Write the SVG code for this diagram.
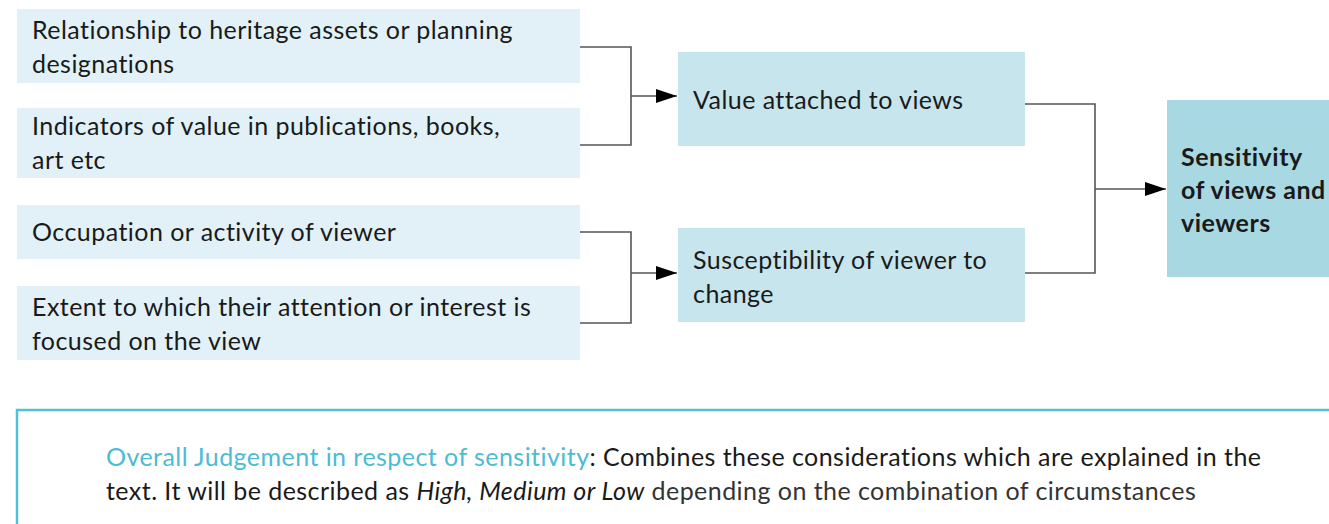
<svg xmlns="http://www.w3.org/2000/svg" width="1329" height="524" viewBox="0 0 1329 524">
  <style>
    .t { font-family: Lato, "Open Sans", "Liberation Sans", sans-serif; font-size: 25px; letter-spacing: 0.45px; fill: #1a1a1a; }
    .b { font-weight: bold; letter-spacing: 0.5px; }
    .lvl1 { fill: #e1f1f7; }
    .lvl2 { fill: #c7e5ed; }
    .lvl3 { fill: #a8d8e2; }
    .wire { fill: none; stroke: #555555; stroke-width: 1.6; }
    .accent { fill: #4bbcd4; }
  </style>
  <defs>
    <marker id="arrow" viewBox="0 0 21 14" refX="21" refY="7" markerWidth="21" markerHeight="14" markerUnits="userSpaceOnUse" orient="auto">
      <path d="M0,0 L21,7 L0,14 Z" fill="#000"/>
    </marker>
  </defs>
  <rect width="1329" height="524" fill="#ffffff"/>

  <!-- input factors -->
  <g id="heritage">
    <rect class="lvl1" x="17" y="9" width="563" height="74"/>
    <text class="t" x="32" y="39">Relationship to heritage assets or planning</text>
    <text class="t" x="32" y="73">designations</text>
  </g>
  <g id="publications">
    <rect class="lvl1" x="17" y="108" width="563" height="70"/>
    <text class="t" x="32" y="135">Indicators of value in publications, books,</text>
    <text class="t" x="32" y="169">art etc</text>
  </g>
  <g id="occupation">
    <rect class="lvl1" x="17" y="205" width="563" height="54"/>
    <text class="t" x="32" y="241">Occupation or activity of viewer</text>
  </g>
  <g id="attention">
    <rect class="lvl1" x="17" y="286" width="563" height="74"/>
    <text class="t" x="32" y="316">Extent to which their attention or interest is</text>
    <text class="t" x="32" y="350">focused on the view</text>
  </g>

  <!-- intermediate factors -->
  <g id="value">
    <rect class="lvl2" x="678" y="52" width="347" height="94"/>
    <text class="t" x="693" y="109">Value attached to views</text>
  </g>
  <g id="susceptibility">
    <rect class="lvl2" x="678" y="228" width="347" height="94"/>
    <text class="t" x="693" y="269">Susceptibility of viewer to</text>
    <text class="t" x="693" y="303">change</text>
  </g>

  <!-- outcome -->
  <g id="sensitivity">
    <rect class="lvl3" x="1167" y="100" width="170" height="177"/>
    <text class="t b" x="1181" y="166">Sensitivity</text>
    <text class="t b" x="1181" y="199">of views and</text>
    <text class="t b" x="1181" y="232">viewers</text>
  </g>

  <!-- connectors -->
  <g id="connectors">
    <path class="wire" d="M580,47 H631 V145 H580"/>
    <path class="wire" d="M631,96 H677" marker-end="url(#arrow)"/>
    <path class="wire" d="M580,232 H631 V323 H580"/>
    <path class="wire" d="M631,273 H677" marker-end="url(#arrow)"/>
    <path class="wire" d="M1025,104 H1095 V273 H1025"/>
    <path class="wire" d="M1095,189 H1166" marker-end="url(#arrow)"/>
  </g>

  <!-- overall judgement note -->
  <g id="judgement">
    <rect x="17" y="410" width="1330" height="130" fill="#ffffff" stroke="#4fc1d6" stroke-width="2.5"/>
    <text class="t" x="106" y="466"><tspan class="accent">Overall Judgement in respect of sensitivity</tspan>: Combines these considerations which are explained in the</text>
    <text class="t" x="106" y="500">text. It will be described as <tspan font-style="italic">High, Medium or Low</tspan><tspan fill="#333333"> depending on the combination of circumstances</tspan></text>
  </g>
</svg>
